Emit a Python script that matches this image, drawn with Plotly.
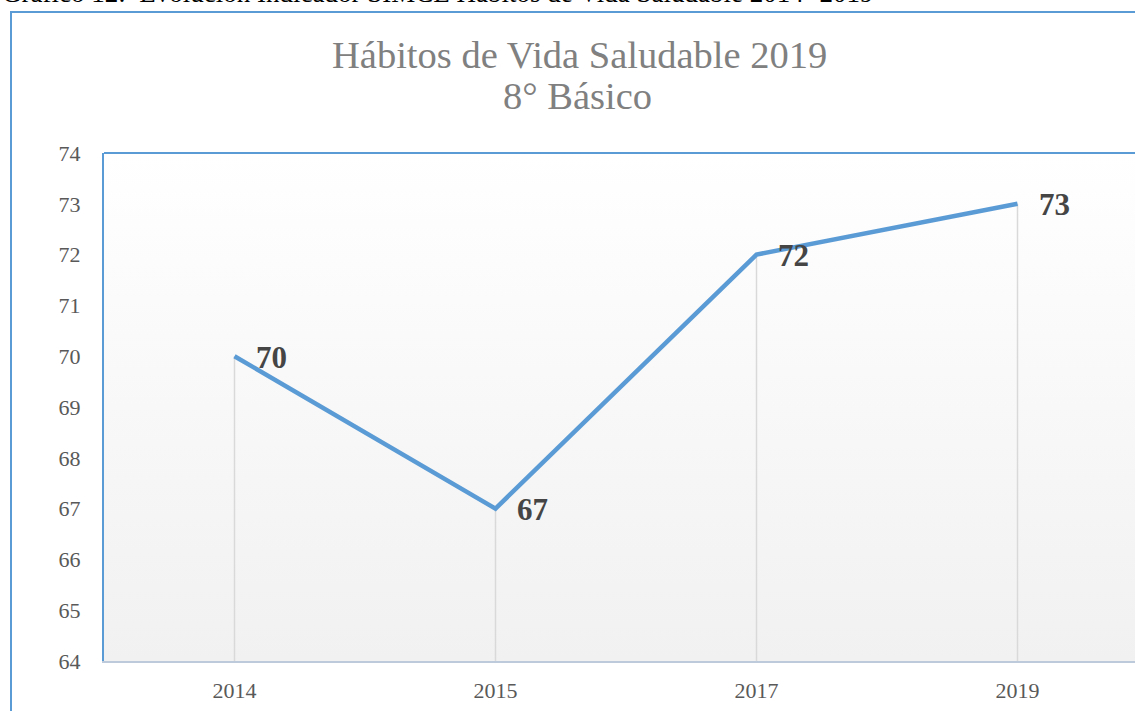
import plotly.graph_objects as go

# ---- data ----
years = ["2014", "2015", "2017", "2019"]
values = [70, 67, 72, 73]
y_ticks = [64, 65, 66, 67, 68, 69, 70, 71, 72, 73, 74]
title_line1 = "Hábitos de Vida Saludable 2019"
title_line2 = "8° Básico"
caption = "Gráfico 12:  Evolución Indicador SIMCE Hábitos de Vida Saludable 2014- 2019"

W, H = 1135, 711
L, R, T, B = 104, 0, 153, 50
plot_w = W - L - R
plot_h = H - T - B
band = 261.0
x_pos = list(range(len(years)))
x_range = [-0.5, -0.5 + plot_w / band]
y_min, y_max = 64, 74

def px_x(px):
    return (px - L) / plot_w

def px_y(py):
    return 1 + (T - py) / plot_h

SERIF = "Liberation Serif, Times New Roman, serif"
BLUE = "#5b9bd5"

fig = go.Figure()

# gradient background of plot area
fig.add_trace(go.Scatter(
    x=[x_range[0], x_range[1], x_range[1], x_range[0], x_range[0]],
    y=[y_min, y_min, y_max, y_max, y_min],
    mode="lines", line=dict(width=0), fill="toself",
    fillgradient=dict(type="vertical", colorscale=[[0, "#f1f1f1"], [1, "#ffffff"]]),
    hoverinfo="skip", showlegend=False,
))

# drop lines from each point down to the axis
dx, dy = [], []
for xp, v in zip(x_pos, values):
    dx += [xp, xp, None]
    dy += [y_min, v, None]
fig.add_trace(go.Scatter(
    x=dx, y=dy, mode="lines",
    line=dict(color="#d9d9d9", width=1.5),
    hoverinfo="skip", showlegend=False,
))

# main line
fig.add_trace(go.Scatter(
    x=x_pos, y=values, mode="lines",
    line=dict(color=BLUE, width=4.5),
    showlegend=False,
))

annotations = []
# data labels
for xp, v in zip(x_pos, values):
    annotations.append(dict(
        x=xp, y=v, xref="x", yref="y", text="<b>%d</b>" % v, showarrow=False,
        xanchor="left", yanchor="middle", xshift=19, yshift=-1,
        font=dict(family=SERIF, size=31, color="#454545"),
    ))

# title lines
annotations.append(dict(
    x=px_x(579.5), y=px_y(55), xref="paper", yref="paper", text=title_line1,
    showarrow=False, xanchor="center", yanchor="middle",
    font=dict(family=SERIF, size=38.5, color="#808080"),
))
annotations.append(dict(
    x=px_x(577.5), y=px_y(96), xref="paper", yref="paper", text=title_line2,
    showarrow=False, xanchor="center", yanchor="middle",
    font=dict(family=SERIF, size=38.5, color="#808080"),
))
# caption (cut by top of page)
annotations.append(dict(
    x=px_x(0), y=px_y(-7), xref="paper", yref="paper", text=caption,
    showarrow=False, xanchor="left", yanchor="middle",
    font=dict(family=SERIF, size=27, color="#000000"),
))

shapes = [
    # outer chart frame
    dict(type="rect", xref="paper", yref="paper",
         x0=px_x(11), x1=px_x(1200), y0=px_y(760), y1=px_y(12),
         line=dict(color=BLUE, width=2), fillcolor="rgba(0,0,0,0)", layer="above"),
    # plot-area top border
    dict(type="line", xref="paper", yref="paper", x0=0, x1=1.05, y0=1, y1=1,
         line=dict(color=BLUE, width=2), layer="above"),
]

fig.update_layout(
    width=W, height=H,
    margin=dict(l=L, r=R, t=T, b=B),
    paper_bgcolor="white", plot_bgcolor="white",
    annotations=annotations, shapes=shapes,
    showlegend=False,
)
fig.update_xaxes(
    range=x_range, tickvals=x_pos, ticktext=years,
    showgrid=False, zeroline=False,
    showline=True, linecolor="#bccadc", linewidth=2,
    ticks="", ticklabelstandoff=9,
    tickfont=dict(family=SERIF, size=22, color="#595959"),
)
fig.update_yaxes(
    range=[y_min, y_max], tickvals=y_ticks, showgrid=False, zeroline=False,
    showline=True, linecolor=BLUE, linewidth=2,
    ticks="", ticklabelstandoff=17,
    tickfont=dict(family=SERIF, size=22, color="#595959"),
)

fig.write_html("out.html", config={"displayModeBar": False},
               post_script="document.body.style.margin='0';")
